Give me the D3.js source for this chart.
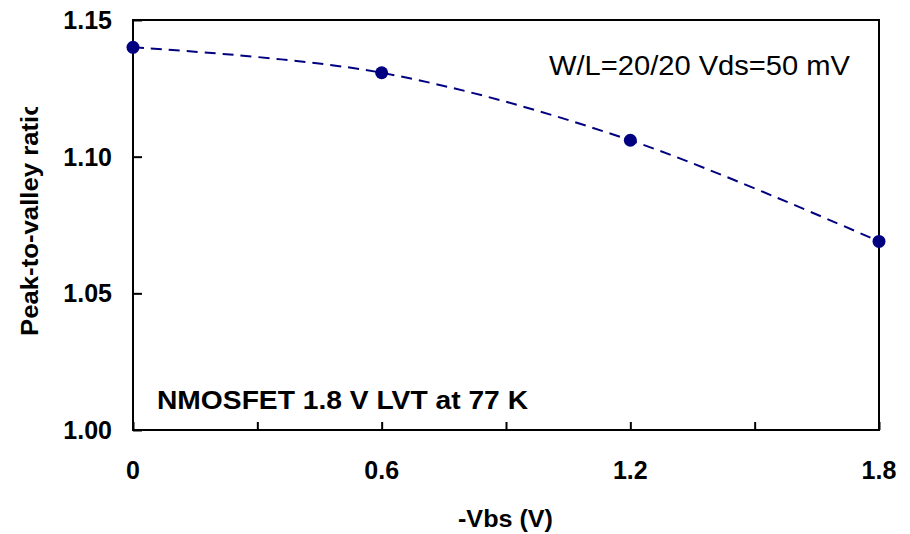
<!DOCTYPE html>
<html>
<head>
<meta charset="utf-8">
<script src="https://cdn.jsdelivr.net/npm/d3@7"></script>
<style>
  html, body { margin: 0; padding: 0; background: #fff; }
  svg { display: block; font-family: Arial, "Liberation Sans", sans-serif; }
</style>
</head>
<body>
<svg id="chart" width="910" height="534"></svg>
<script>
// Peak-to-valley ratio versus substrate bias
const biasValues = [0, 0.6, 1.2, 1.8];           // -Vbs (V)
const ratioValues = [1.140, 1.1307, 1.106, 1.069];
const xTickLabels = [0, 0.6, 1.2, 1.8];
const xTickMarks = [0, 0.3, 0.6, 0.9, 1.2, 1.5, 1.8];
const yTickLabels = [1.00, 1.05, 1.10, 1.15];

const svg = d3.select("#chart");
const plot = { left: 133, right: 879, top: 20, bottom: 430 };

const x = d3.scaleLinear().domain([0, 1.8]).range([plot.left, plot.right]);
const y = d3.scaleLinear().domain([1.00, 1.15]).range([plot.bottom, plot.top]);

// inside tick marks
const xAxis = d3.axisBottom(x).tickValues(xTickMarks).tickSizeInner(-8).tickSizeOuter(0).tickFormat("");
const yAxis = d3.axisLeft(y).tickValues(yTickLabels).tickSizeInner(-9).tickSizeOuter(0).tickFormat("");

svg.append("g").attr("transform", `translate(0,${plot.bottom})`).call(xAxis)
  .call(g => g.select(".domain").remove())
  .selectAll("line").attr("stroke", "#000").attr("stroke-width", 2);
svg.append("g").attr("transform", `translate(${plot.left},0)`).call(yAxis)
  .call(g => g.select(".domain").remove())
  .selectAll("line").attr("stroke", "#000").attr("stroke-width", 2);

// plot frame
svg.append("rect")
  .attr("x", plot.left).attr("y", plot.top)
  .attr("width", plot.right - plot.left).attr("height", plot.bottom - plot.top)
  .attr("fill", "none").attr("stroke", "#000").attr("stroke-width", 2);

// tick labels
svg.append("g").selectAll("text").data(xTickLabels).join("text")
  .attr("x", d => x(d)).attr("y", 479)
  .attr("text-anchor", "middle")
  .attr("font-size", 25).attr("font-weight", "bold").attr("fill", "#000")
  .text(d => d === 0 ? "0" : d3.format(".1f")(d));

svg.append("g").selectAll("text").data(yTickLabels).join("text")
  .attr("x", 112).attr("y", d => y(d)).attr("dy", "0.36em")
  .attr("text-anchor", "end")
  .attr("font-size", 25).attr("font-weight", "bold").attr("fill", "#000")
  .text(d => d3.format(".2f")(d));

// axis titles
svg.append("text")
  .attr("x", 458).attr("y", 527)
  .attr("textLength", 95).attr("lengthAdjust", "spacingAndGlyphs")
  .attr("font-size", 23.5).attr("font-weight", "bold").attr("fill", "#000")
  .text("-Vbs (V)");

svg.append("clipPath").attr("id", "ytitle-clip")
  .append("rect").attr("x", 0).attr("y", 107).attr("width", 60).attr("height", 300);

svg.append("g").attr("clip-path", "url(#ytitle-clip)")
  .append("text")
  .attr("transform", "translate(38,336) rotate(-90)")
  .attr("textLength", 236).attr("lengthAdjust", "spacingAndGlyphs")
  .attr("font-size", 23.5).attr("font-weight", "bold").attr("fill", "#000")
  .text("Peak-to-valley ratio");

// annotations
svg.append("text")
  .attr("x", 549).attr("y", 75)
  .attr("textLength", 301).attr("lengthAdjust", "spacingAndGlyphs")
  .attr("font-size", 28).attr("fill", "#000")
  .text("W/L=20/20 Vds=50 mV");

svg.append("text")
  .attr("x", 157).attr("y", 409)
  .attr("textLength", 371).attr("lengthAdjust", "spacingAndGlyphs")
  .attr("font-size", 26.5).attr("font-weight", "bold").attr("fill", "#000")
  .text("NMOSFET 1.8 V LVT at 77 K");

// smoothed dashed series line
const pts = biasValues.map((v, i) => [v, ratioValues[i]]);
const line = d3.line()
  .x(d => x(d[0])).y(d => y(d[1]))
  .curve(d3.curveCardinal.tension(0));

svg.append("path")
  .datum(pts)
  .attr("d", line)
  .attr("fill", "none")
  .attr("stroke", "#000080")
  .attr("stroke-width", 2)
  .attr("stroke-dasharray", "11,7");

svg.append("g").selectAll("circle").data(pts).join("circle")
  .attr("cx", d => x(d[0])).attr("cy", d => y(d[1]))
  .attr("r", 6.5)
  .attr("fill", "#000080");
</script>
</body>
</html>
